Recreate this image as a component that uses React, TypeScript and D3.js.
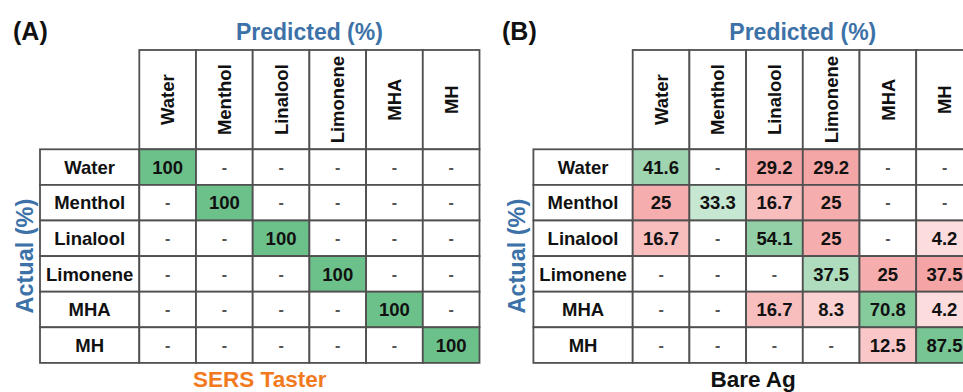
import React from "react";
import * as d3 from "d3";

// Class labels shared by both confusion matrices
const classes = ["Water", "Menthol", "Linalool", "Limonene", "MHA", "MH"];

// SERS Taster: percentage of each actual class assigned to each predicted class (null = "-")
const sersTaster: (number | null)[][] = [
  [100, null, null, null, null, null],
  [null, 100, null, null, null, null],
  [null, null, 100, null, null, null],
  [null, null, null, 100, null, null],
  [null, null, null, null, 100, null],
  [null, null, null, null, null, 100],
];

// Bare Ag substrate
const bareAg: (number | null)[][] = [
  [41.6, null, 29.2, 29.2, null, null],
  [25, 33.3, 16.7, 25, null, null],
  [16.7, null, 54.1, 25, null, 4.2],
  [null, null, null, 37.5, 25, 37.5],
  [null, null, 16.7, 8.3, 70.8, 4.2],
  [null, null, null, null, 12.5, 87.5],
];

const panelTitles = ["(A)", "(B)"];
const panelCaptions = ["SERS Taster", "Bare Ag"];

const FONT = "'Liberation Sans', Arial, sans-serif";
const BLUE = "#3d72a8";
const ORANGE = "#f27a1e";
const GRID = "#505050";

const COL_W = 56.7;
const ROW_H = 35.6;
const HEADER_TOP = 50;
const BODY_TOP = 149.3;
const LABEL_W = 99.3;

// Correct predictions shade green, misclassifications shade red
const greenScale = d3
  .scaleLinear<string>()
  .domain([33, 40, 100])
  .range(["#c8e8d2", "#9fd5b0", "#6cc18a"])
  .clamp(true);
const redScale = d3
  .scaleLinear<string>()
  .domain([4, 17, 30])
  .range(["#fcdcdc", "#f8bcbc", "#f4a4a4"])
  .clamp(true);

type PanelProps = {
  data: (number | null)[][];
  gridLeft: number;
  title: string;
  titleX: number;
  caption: string;
  captionColor: string;
  actualX: number;
};

function Panel({ data, gridLeft, title, titleX, caption, captionColor, actualX }: PanelProps) {
  const x = d3
    .scaleBand<string>()
    .domain(classes)
    .range([gridLeft, gridLeft + COL_W * classes.length]);
  const y = d3
    .scaleBand<string>()
    .domain(classes)
    .range([BODY_TOP, BODY_TOP + ROW_H * classes.length]);
  const labelLeft = gridLeft - LABEL_W;
  const headerMid = (HEADER_TOP + BODY_TOP) / 2;
  const gridMidX = (x.range()[0] + x.range()[1]) / 2;
  const bodyMidY = (y.range()[0] + y.range()[1]) / 2;
  const fullMidX = (labelLeft + x.range()[1]) / 2;

  return (
    <g>
      {/* column headers */}
      {classes.map((c) => (
        <g key={"h" + c}>
          <rect
            x={x(c)}
            y={HEADER_TOP}
            width={x.bandwidth()}
            height={BODY_TOP - HEADER_TOP}
            fill="#fff"
            stroke={GRID}
            strokeWidth={1.8}
          />
          <text
            transform={`translate(${x(c)! + x.bandwidth() / 2},${headerMid}) rotate(-90)`}
            dy="0.36em"
            textAnchor="middle"
            fontFamily={FONT}
            fontWeight="bold"
            fontSize={18.5}
            fill="#111"
          >
            {c}
          </text>
        </g>
      ))}

      {/* row labels */}
      {classes.map((r) => (
        <g key={"r" + r}>
          <rect
            x={labelLeft}
            y={y(r)}
            width={LABEL_W}
            height={y.bandwidth()}
            fill="#fff"
            stroke={GRID}
            strokeWidth={1.8}
          />
          <text
            x={labelLeft + LABEL_W / 2}
            y={y(r)! + y.bandwidth() / 2}
            dy="0.36em"
            textAnchor="middle"
            fontFamily={FONT}
            fontWeight="bold"
            fontSize={18.5}
            fill="#111"
          >
            {r}
          </text>
        </g>
      ))}

      {/* matrix cells */}
      {data.map((row, i) =>
        row.map((v, j) => {
          const r = classes[i];
          const c = classes[j];
          const fill = v == null ? "#fff" : i === j ? greenScale(v) : redScale(v);
          return (
            <g key={`c${i}-${j}`}>
              <rect
                x={x(c)}
                y={y(r)}
                width={x.bandwidth()}
                height={y.bandwidth()}
                fill={fill}
                stroke={GRID}
                strokeWidth={1.8}
              />
              <text
                x={x(c)! + x.bandwidth() / 2}
                y={y(r)! + y.bandwidth() / 2}
                dy="0.36em"
                textAnchor="middle"
                fontFamily={FONT}
                fontWeight="bold"
                fontSize={v == null ? 16 : 18.5}
                fill={v == null ? "#555" : "#111"}
              >
                {v == null ? "-" : String(v)}
              </text>
            </g>
          );
        })
      )}

      {/* titles */}
      <text x={titleX} y={40} fontFamily={FONT} fontWeight="bold" fontSize={25} fill="#111">
        {title}
      </text>
      <text
        x={gridMidX}
        y={40}
        textAnchor="middle"
        fontFamily={FONT}
        fontWeight="bold"
        fontSize={23}
        fill={BLUE}
      >
        Predicted (%)
      </text>
      <text
        transform={`translate(${actualX},${bodyMidY}) rotate(-90)`}
        textAnchor="middle"
        fontFamily={FONT}
        fontWeight="bold"
        fontSize={23.5}
        fill={BLUE}
      >
        Actual (%)
      </text>
      <text
        x={fullMidX}
        y={386.5}
        textAnchor="middle"
        fontFamily={FONT}
        fontWeight="bold"
        fontSize={22.5}
        fill={captionColor}
      >
        {caption}
      </text>
    </g>
  );
}

export default function App() {
  return (
    <svg
      width={963}
      height={392}
      style={{ position: "absolute", left: 0, top: 0, background: "#fff", overflow: "hidden" }}
    >
      <rect width={963} height={392} fill="#fff" />
      <Panel
        data={sersTaster}
        gridLeft={139.3}
        title={panelTitles[0]}
        titleX={13}
        caption={panelCaptions[0]}
        captionColor={ORANGE}
        actualX={32.5}
      />
      <Panel
        data={bareAg}
        gridLeft={632.7}
        title={panelTitles[1]}
        titleX={502}
        caption={panelCaptions[1]}
        captionColor="#111"
        actualX={525}
      />
    </svg>
  );
}
